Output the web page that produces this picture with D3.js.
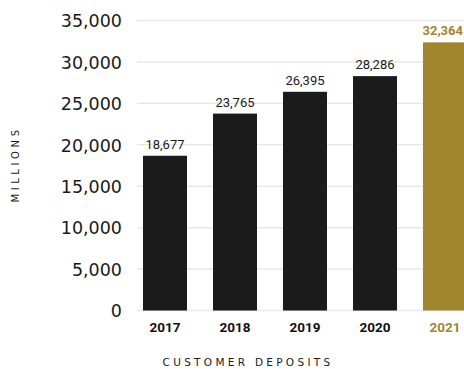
<!DOCTYPE html>
<html>
<head>
<meta charset="utf-8">
<script src="https://cdn.jsdelivr.net/npm/d3@7"></script>
<style>
  html, body { margin: 0; padding: 0; background: #ffffff; }
  svg { display: block; }
</style>
</head>
<body>
<svg id="chart" width="464" height="369"></svg>
<script>
// Customer deposits by year (millions)
const years = ["2017", "2018", "2019", "2020", "2021"];
const deposits = [18677, 23765, 26395, 28286, 32364];
const valueLabels = ["18,677", "23,765", "26,395", "28,286", "32,364"];
const tickValues = [0, 5000, 10000, 15000, 20000, 25000, 30000, 35000];
const highlightYear = "2021";

const dark = "#1b1b1b";
const gold = "#a2852f";
const width = 464;

const svg = d3.select("#chart");

const y = d3.scaleLinear().domain([0, 35000]).range([310.5, 20.5]);

const x = d3.scaleBand()
  .domain(years)
  .range([137, 473])
  .paddingInner(26 / 70)
  .paddingOuter(6 / 70)
  .align(0.5);

// Horizontal grid lines
svg.append("g")
  .selectAll("line")
  .data(tickValues)
  .join("line")
  .attr("x1", 137)
  .attr("x2", width)
  .attr("y1", d => y(d))
  .attr("y2", d => y(d))
  .attr("stroke", "#e9e9e9")
  .attr("stroke-width", 1.5);

// Y axis tick labels
const yAxis = d3.axisLeft(y)
  .tickValues(tickValues)
  .tickFormat(d3.format(","))
  .tickSize(0)
  .tickPadding(0);

const yg = svg.append("g")
  .attr("transform", "translate(122,0)")
  .call(yAxis);
yg.select(".domain").remove();
yg.selectAll("text")
  .attr("font-family", "'DejaVu Sans', sans-serif")
  .attr("font-size", "17.5px")
  .attr("fill", "#1a1a1a")
  .attr("dy", "0.36em");

// Bars
svg.append("g")
  .selectAll("rect")
  .data(years)
  .join("rect")
  .attr("x", d => x(d))
  .attr("width", x.bandwidth())
  .attr("y", (d, i) => y(deposits[i]))
  .attr("height", (d, i) => y(0) - y(deposits[i]))
  .attr("fill", d => d === highlightYear ? gold : dark);

// Value labels above bars, kept inside the right edge
svg.append("g")
  .selectAll("text")
  .data(years)
  .join("text")
  .attr("x", d => x(d) + x.bandwidth() / 2)
  .attr("y", (d, i) => y(deposits[i]) - 7)
  .attr("text-anchor", "middle")
  .attr("font-family", "'Liberation Sans Narrow', 'Roboto', sans-serif")
  .attr("font-size", "13px")
  .attr("font-weight", d => d === highlightYear ? "bold" : "normal")
  .attr("fill", d => d === highlightYear ? gold : dark)
  .text((d, i) => valueLabels[i])
  .each(function (d) {
    const w = this.getComputedTextLength();
    const cx = x(d) + x.bandwidth() / 2;
    const right = cx + w / 2;
    if (right > width - 1) d3.select(this).attr("x", cx - (right - (width - 1)));
  });

// X axis year labels
const xAxis = d3.axisBottom(x).tickSize(0).tickPadding(0);
const xg = svg.append("g")
  .attr("transform", "translate(0,332)")
  .call(xAxis);
xg.select(".domain").remove();
xg.selectAll("text")
  .attr("dy", 0)
  .attr("font-family", "'Liberation Sans Narrow', 'Roboto', sans-serif")
  .attr("font-size", "13.5px")
  .attr("font-weight", "bold")
  .attr("fill", d => d === highlightYear ? gold : "#111111");

// Axis titles
svg.append("text")
  .attr("transform", "translate(18.5,164.5) rotate(-90)")
  .attr("text-anchor", "middle")
  .attr("font-family", "'DejaVu Sans', sans-serif")
  .attr("font-size", "10px")
  .attr("letter-spacing", "3.6px")
  .attr("fill", "#1a1a1a")
  .text("MILLIONS");

svg.append("text")
  .attr("x", 248)
  .attr("y", 365.5)
  .attr("text-anchor", "middle")
  .attr("font-family", "'DejaVu Sans', sans-serif")
  .attr("font-size", "10.5px")
  .attr("letter-spacing", "3.3px")
  .attr("fill", "#1a1a1a")
  .text("CUSTOMER DEPOSITS");
</script>
</body>
</html>
